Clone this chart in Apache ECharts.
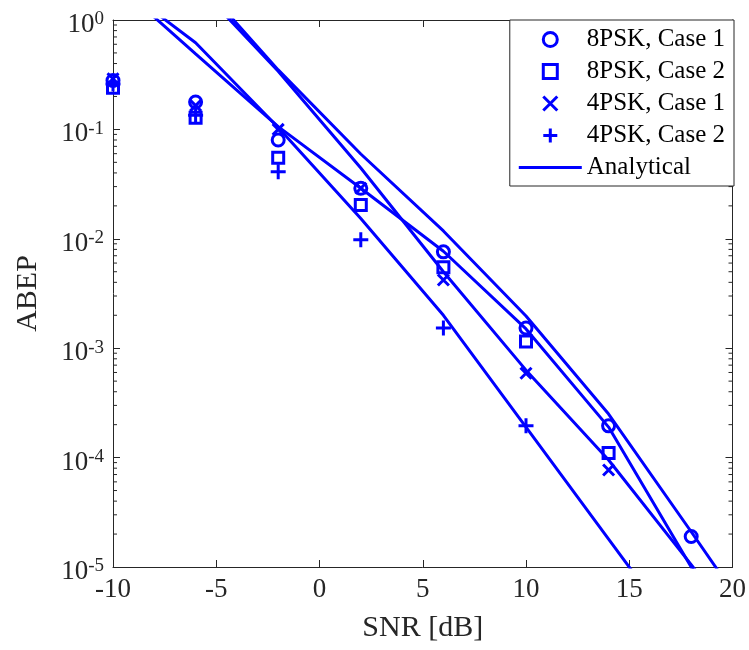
<!DOCTYPE html>
<html>
<head>
<meta charset="utf-8">
<script src="https://cdn.jsdelivr.net/npm/echarts@6/dist/echarts.min.js"></script>
<style>
  html, body { margin: 0; padding: 0; background: #ffffff; }
  #chart { width: 749px; height: 650px; }
</style>
</head>
<body>
<div id="chart"></div>
<script>
// SNR points of the simulated curves (dB)
const snrSim = [-10, -6, -2, 2, 6, 10, 14, 18];
// Simulated ABEP
const psk8Case1 = [0.28, 0.178, 0.08, 0.029, 0.0076, 1.53e-3, 1.95e-4, 1.9e-5];
const psk8Case2 = [0.24, 0.128, 0.055, 0.0204, 0.0055, 1.15e-3, 1.1e-4, null];
const psk4Case1 = [0.29, 0.165, 0.10, 0.029, 0.0042, 5.9e-4, 7.7e-5, null];
const psk4Case2 = [0.26, 0.135, 0.041, 0.0098, 1.53e-3, 1.95e-4, null, null];

// SNR points of the analytical curves (dB)
const snrAna = [-10, -6, -2, 2, 6, 10, 14, 18, 22];
const anaA = [null, 2.45, 0.35, 0.0596, 0.0118, 1.97e-3, 2.5e-4, 2.1e-5, 1.7e-6];
const anaB = [null, 2.15, 0.34, 0.0444, 5.0e-3, 6.3e-4, 9.5e-5, 1.05e-5, 1.1e-6];
const anaC = [2.3, 0.49, 0.106, 0.029, 0.0077, 1.5e-3, 1.9e-4, 1.0e-5, 5e-7];
const anaD = [2.3, 0.62, 0.104, 0.0153, 2.0e-3, 1.9e-4, 1.8e-5, 1.7e-6, null];

// Axis ticks
const xTicks = { min: -10, max: 20, step: 5 };
const yDecades = { min: 1e-5, max: 1 };

const BLUE = '#0000ff';
const AXIS = '#262626';
const FONT = 'Liberation Serif';

const SYM_CROSS = 'path://M0,0L10,10M10,0L0,10';
const SYM_PLUS = 'path://M5,0L5,10M0,5L10,5';
const SYM_SQUARE = 'path://M0,0L10,0L10,10L0,10Z';

function pairs(xs, ys) {
  const out = [];
  xs.forEach((x, i) => { if (ys[i] != null) out.push([x, ys[i]]); });
  return out;
}

// Minor tick values (2..9 per decade) for the log axis
const minorTickValues = [];
for (let e = -5; e < 0; e++) {
  for (let k = 2; k <= 9; k++) minorTickValues.push([xTicks.min, k * Math.pow(10, e)]);
}

const hollow = { color: 'rgba(0,0,0,0)', borderColor: BLUE, borderWidth: 3, opacity: 1 };

function simSeries(name, ys, symbol, size) {
  return {
    type: 'scatter', name: name, data: pairs(snrSim, ys),
    symbol: symbol, symbolSize: size, itemStyle: hollow, z: 3
  };
}
function anaSeries(ys) {
  return {
    type: 'line', name: 'Analytical', data: pairs(snrAna, ys),
    symbol: 'none', showSymbol: false, clip: true,
    lineStyle: { color: BLUE, width: 3 }, itemStyle: { color: BLUE }, z: 2
  };
}

const legendMarker = { color: 'rgba(0,0,0,0)', borderColor: BLUE, borderWidth: 3 };

const chart = echarts.init(document.getElementById('chart'), null, { renderer: 'canvas' });

const option = {
  animation: false,
  backgroundColor: '#ffffff',
  grid: { left: 113, right: 15, top: 20, bottom: 83 },
  legend: {
    data: [
      { name: '8PSK, Case 1', icon: 'circle', itemStyle: legendMarker },
      { name: '8PSK, Case 2', icon: SYM_SQUARE, itemStyle: legendMarker },
      { name: '4PSK, Case 1', icon: SYM_CROSS, itemStyle: legendMarker },
      { name: '4PSK, Case 2', icon: SYM_PLUS, itemStyle: legendMarker },
      { name: 'Analytical', icon: 'path://M0,0L63,0L63,3L0,3Z',
        itemStyle: { color: BLUE, borderWidth: 0 } }
    ],
    orient: 'vertical', right: 15, top: 20,
    itemWidth: 63, itemHeight: 14, itemGap: 7,
    padding: [7, 9, 6, 9],
    backgroundColor: '#ffffff', borderColor: AXIS, borderWidth: 1, borderRadius: 0,
    textStyle: { fontFamily: FONT, fontSize: 25, color: '#000000' },
    selectedMode: false
  },
  xAxis: [
    {
      type: 'value', min: xTicks.min, max: xTicks.max, interval: xTicks.step,
      name: 'SNR [dB]', nameLocation: 'middle', nameGap: 46,
      nameTextStyle: { fontFamily: FONT, fontSize: 30, color: AXIS },
      axisLine: { show: true, onZero: false, lineStyle: { color: AXIS, width: 1 } },
      axisTick: { show: true, inside: true, length: 7, lineStyle: { color: AXIS } },
      axisLabel: { fontFamily: FONT, fontSize: 27, color: AXIS, margin: 9 },
      splitLine: { show: false }
    },
    {
      type: 'value', position: 'top', min: xTicks.min, max: xTicks.max, interval: xTicks.step,
      axisLine: { show: true, onZero: false, lineStyle: { color: AXIS, width: 1 } },
      axisTick: { show: true, inside: true, length: 7, lineStyle: { color: AXIS } },
      axisLabel: { show: false }, splitLine: { show: false }
    }
  ],
  yAxis: [
    {
      type: 'log', logBase: 10, min: yDecades.min, max: yDecades.max, interval: 1,
      name: 'ABEP', nameLocation: 'middle', nameGap: 70,
      nameTextStyle: { fontFamily: FONT, fontSize: 30, color: AXIS },
      axisLine: { show: true, onZero: false, lineStyle: { color: AXIS, width: 1 } },
      axisTick: { show: true, inside: true, length: 7, lineStyle: { color: AXIS } },
      axisLabel: {
        margin: 9,
        formatter: function (v) {
          return '{b|10}{s|' + Math.round(Math.log10(v)) + '}';
        },
        rich: {
          b: { fontFamily: FONT, fontSize: 27, color: AXIS, lineHeight: 30, padding: [10, 0, 0, 0] },
          s: { fontFamily: FONT, fontSize: 19, color: AXIS, lineHeight: 19, verticalAlign: 'top', padding: [5, 0, 0, 0] }
        }
      },
      splitLine: { show: false }
    },
    {
      type: 'log', logBase: 10, position: 'right', min: yDecades.min, max: yDecades.max, interval: 1,
      axisLine: { show: true, onZero: false, lineStyle: { color: AXIS, width: 1 } },
      axisTick: { show: true, inside: true, length: 7, lineStyle: { color: AXIS } },
      axisLabel: { show: false }, splitLine: { show: false }
    }
  ],
  series: [
    anaSeries(anaA),
    anaSeries(anaB),
    anaSeries(anaC),
    anaSeries(anaD),
    simSeries('8PSK, Case 1', psk8Case1, 'circle', 12),
    simSeries('8PSK, Case 2', psk8Case2, SYM_SQUARE, 11),
    simSeries('4PSK, Case 1', psk4Case1, SYM_CROSS, 11),
    simSeries('4PSK, Case 2', psk4Case2, SYM_PLUS, 15),
    {
      // minor ticks of the log axis, on both the left and right frame edges
      type: 'custom', name: 'minorTicks', silent: true, clip: false, z: 1,
      data: minorTickValues,
      renderItem: function (params, api) {
        const y = api.coord([xTicks.min, api.value(1)])[1];
        const cs = params.coordSys;
        const len = 4;
        const st = { stroke: AXIS, lineWidth: 1 };
        return {
          type: 'group',
          children: [
            { type: 'line', shape: { x1: cs.x, y1: y, x2: cs.x + len, y2: y }, style: st },
            { type: 'line', shape: { x1: cs.x + cs.width - len, y1: y, x2: cs.x + cs.width, y2: y }, style: st }
          ]
        };
      }
    }
  ]
};

chart.setOption(option);
</script>
</body>
</html>
